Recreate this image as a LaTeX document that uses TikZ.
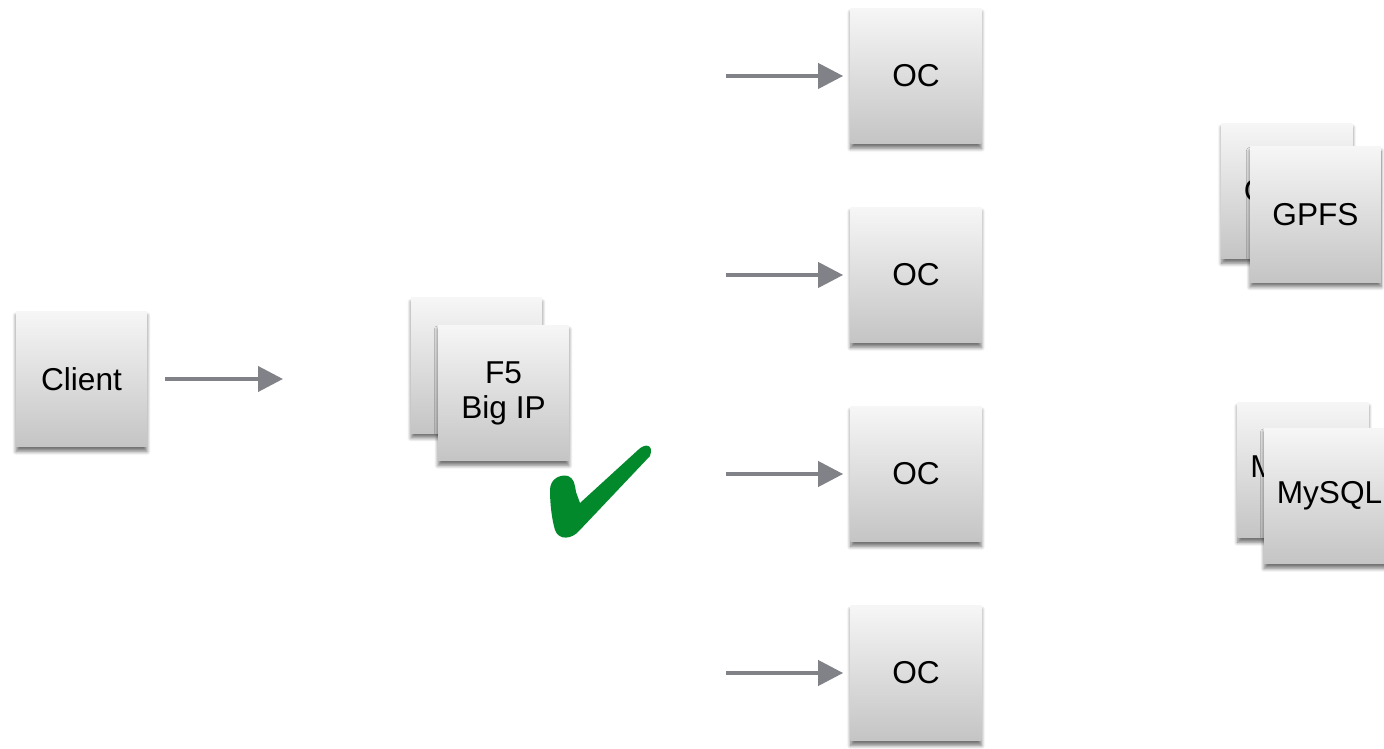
\documentclass[tikz,border=0pt]{standalone}
\usepackage{fontspec}
\setmainfont{Liberation Sans}
\usetikzlibrary{arrows.meta,shadows.blur}
\definecolor{arrowgray}{RGB}{128,130,135}
\definecolor{checkgreen}{RGB}{2,137,44}
\tikzset{
  srvbox/.style={minimum width=2.62cm, minimum height=2.72cm, inner sep=0pt,
    top color=gray!7, bottom color=gray!46, align=center,
    font=\fontsize{18}{20}\selectfont,
    blur shadow={shadow xshift=0pt, shadow yshift=-0.09cm, shadow blur steps=8, shadow opacity=55}},
  flow/.style={-{Triangle[length=0.5cm,width=0.5cm]}, line width=0.08cm, arrowgray}
}

\begin{document}
\begin{tikzpicture}[x=0.02cm, y=-0.02cm]

\useasboundingbox (0,0) rectangle (1384,749);

\node[srvbox] (client) at (81.5,379) {Client};
\coordinate (lbin) at (283,379);
\draw[flow, shorten <=0.36cm] (client.east) -- (lbin);

\node[srvbox] (f5back) at (476.5,365.5) {};
\node[srvbox] (f5) at (503.5,393) {F5\\Big IP};

\foreach \i/\y in {1/76,2/275,3/474,4/673}{
  \node[srvbox] (oc\i) at (916,\y) {OC};
  \coordinate (ocin\i) at (726,\y);
  \draw[flow, shorten >=0.14cm] (ocin\i) -- (oc\i.west);
}

\node[srvbox] (gpfsback) at (1287,191) {GPFS};
\node[srvbox] (gpfs) at (1315.5,214.5) {GPFS};

\node[srvbox] (sqlback) at (1303,470) {MySQL};
\node[srvbox] (sql) at (1329.5,496) {MySQL};

\fill[checkgreen] (550,490) .. controls (550,479) and (560,474) .. (568,476)
  .. controls (574,478) and (575,485) .. (576,492) -- (580,503)
  -- (638,450) .. controls (645,443) and (654,444) .. (650,456)
  -- (579,531) .. controls (572,539) and (559,541) .. (555,530)
  .. controls (552,520) and (550,505) .. cycle;

%\draw[red] (0,0) rectangle (1384,749);
\end{tikzpicture}
\end{document}
